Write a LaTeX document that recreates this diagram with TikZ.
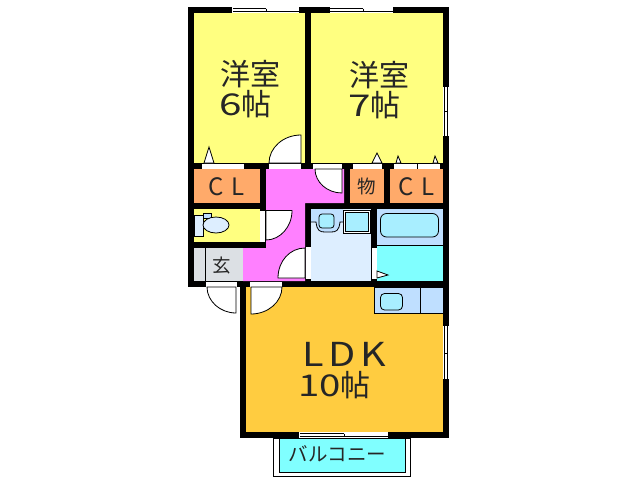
\documentclass[tikz,border=0pt]{standalone}
\usepackage{fontspec}
\setmainfont{Noto Sans CJK JP}
\newfontfamily\spacedbig[LetterSpace=12]{Noto Sans CJK JP}
\newfontfamily\spacedmid[LetterSpace=35]{Noto Sans CJK JP}
\definecolor{cyel}{HTML}{FFFF80}
\definecolor{cora}{HTML}{FFAA6A}
\definecolor{cpin}{HTML}{FF80FF}
\definecolor{cldk}{HTML}{FFCC40}
\definecolor{ccya}{HTML}{80FFFF}
\definecolor{cblu}{HTML}{BFDFFF}
\definecolor{cpal}{HTML}{DDEEFF}
\definecolor{cgry}{HTML}{DCE0E4}
\definecolor{csan}{HTML}{A8EEFF}
\tikzset{
 x=1pt,y=-1pt,
 wall/.style={fill=black,draw=none},
 fixt/.style={draw=black,line width=.8pt},
 opening/.style={fill=white,draw=none},
 door/.style={fill=white,draw=black,line width=.8pt},
 rail/.style={draw=black,line width=.6pt},
 big/.style={font=\fontsize{30}{30}\selectfont,inner sep=0pt,text=black!85},
 ldkfont/.style={font=\fontsize{33}{33}\selectfont,inner sep=0pt,text=black!85},
 mid/.style={font=\fontsize{24}{24}\selectfont,inner sep=0pt,text=black!85},
 small/.style={font=\fontsize{18.5}{18.5}\selectfont,inner sep=0pt,text=black!85},
}
\begin{document}
\begin{tikzpicture}
\useasboundingbox (0,0) rectangle (638,480);
\fill[white] (0,0) rectangle (638,480);
% outer walls as black masses
\fill[wall] (188,7) rectangle (449,287);
\fill[wall] (240,287) rectangle (449,438);
% rooms
\fill[cyel] (194,13) rectangle (305,163);
\fill[cyel] (311,13) rectangle (443,163);
\fill[cora] (194,169) rectangle (260,203);
\fill[cora] (350,169) rectangle (384,203);
\fill[cora] (390,169) rectangle (443,203);
\fill[cyel] (194,209) rectangle (260,242);
\fill[cgry] (194,248) rectangle (243,281);
\draw[black,line width=.4pt] (205,248) -- (205,281);
\fill[cpin] (266,169) -- (344,169) -- (344,203) -- (305,203) -- (305,281) -- (243,281) -- (243,248) -- (266,248) -- cycle;
\fill[cpal] (311,209) rectangle (371,281);
\fill[cblu] (311,209) rectangle (343,222);
\fill[cblu] (377,209) rectangle (443,245);
\fill[ccya] (377,245) rectangle (443,281);
\draw[black,line width=.8pt] (377,245) -- (443,245);
\fill[cldk] (246,287) rectangle (443,432);
% kitchen
\filldraw[fill=cblu,fixt] (374,287) rectangle (443,313);
\draw[fixt] (420,287) -- (420,313);
\filldraw[fill=csan,fixt,rounded corners=4pt] (380.5,293.5) rectangle (402.5,310);
% bathtub
\filldraw[fill=csan,fixt,rounded corners=6pt] (380.5,213.5) rectangle (438.5,237);
% wash basin
\filldraw[fill=cblu,fixt] (311,222) -- (316,222) .. controls (317,231) and (320,232) .. (325,232) -- (331,232) .. controls (336,232) and (339,231) .. (340,222) -- (343,222);
\filldraw[fill=csan,fixt,rounded corners=3pt] (319,214) rectangle (334,228);
% washer pan
\filldraw[fill=white,fixt] (343.5,210) rectangle (370.5,233);
\filldraw[fill=csan,fixt] (345.5,212) rectangle (368.5,231);
% toilet
\filldraw[fill=cpal,fixt] (194,215) rectangle (203,236);
\filldraw[fill=cblu,fixt] (203,213.5) rectangle (211,218);
\filldraw[fill=cpal,fixt] (216,225) ellipse (13 and 8);
% windows
\fill[opening] (232,7) rectangle (299,13);
\draw[rail] (233,8.5) -- (266,8.5) (233,11) -- (299,11) (266,8.5) -- (266,12);
\fill[opening] (330,7) rectangle (393,13);
\draw[rail] (330,8.5) -- (363,8.5) (330,11) -- (393,11) (363,8.5) -- (363,12);
\fill[opening] (299,432) rectangle (388,438);
\draw[rail] (300,433.5) -- (344,433.5) (300,436) -- (388,436) (344,433.5) -- (344,437);
\fill[opening] (443,87) rectangle (449,136);
\draw[rail] (444.5,87) -- (444.5,136) (447,87) -- (447,136) (444.5,111) -- (448,111);
\fill[opening] (443,326) rectangle (449,379);
\draw[rail] (444.5,326) -- (444.5,379) (447,326) -- (447,379) (444.5,353) -- (448,353);
% closet / door openings
\fill[opening] (202,164) rectangle (244,169);
\fill[opening] (269,164) rectangle (301,169);
\fill[opening] (313,164) rectangle (342,169);
\fill[opening] (353,164) rectangle (382,169);
\fill[opening] (394,164) rectangle (440,169);
\draw[rail] (417,164) -- (417,169);
\fill[opening] (260,211) rectangle (265,242);
\fill[opening] (306,247) rectangle (310.5,279);
\fill[opening] (372,248) rectangle (376.5,279);
\fill[opening] (206,281.5) rectangle (237,287);
\fill[opening] (250,281.5) rectangle (282,287);
% door leaves
\filldraw[door] (301,163) -- (301,135) .. controls (283,135) and (269,148) .. (269,163) -- cycle;
\filldraw[door] (342,169) -- (342,193) .. controls (327,193) and (315,182) .. (315,169) -- cycle;
\filldraw[door] (266,210.5) -- (292,210.5) .. controls (292,227) and (280,240) .. (266,240) -- cycle;
\filldraw[door] (305,278) -- (278,278) .. controls (278,261) and (290,248) .. (305,248) -- cycle;
\filldraw[door] (236,287) -- (236,313) .. controls (220,313) and (207,301) .. (207,287) -- cycle;
\filldraw[door] (251,287) -- (251,314) .. controls (268,314) and (282,302) .. (282,287) -- cycle;
% sliding-door marks
\filldraw[door] (204,163) -- (209,147) -- (214,163) -- cycle;
\filldraw[door] (372,163) -- (377,153) -- (382,163) -- cycle;
\filldraw[door] (396,163) -- (398,156) -- (401,163) -- cycle;
\filldraw[door] (433,163) -- (435,156) -- (438,163) -- cycle;
\filldraw[door] (377,271) -- (388,275) -- (377,278) -- cycle;
% balcony
\filldraw[fill=white,draw=black,line width=.8pt] (273.5,438) rectangle (410,476);
\filldraw[fill=ccya,draw=black,line width=.8pt] (279,438) rectangle (405,472);
% labels
\node[big] (y6a) at (250.5,74) {洋室};
\node[big] (y6b) at (245.5,104) {\scalebox{1.35}[1]{6}帖};
\node[big] (y7a) at (379,75) {洋室};
\node[big] (y7b) at (374.5,105) {\scalebox{1.35}[1]{7}帖};
\node[ldkfont] (ldk) at (344,354) {\scalebox{1.2}[1]{\spacedbig LDK}};
\node[big] (ldk2) at (334.5,385) {\scalebox{1.28}[1]{10}帖};
\node[mid] (cl1) at (226.5,187) {{\spacedmid CL}};
\node[mid] (cl2) at (416.5,187) {{\spacedmid CL}};
\node[small] (mono) at (367,186) {物};
\node[small] (gen) at (222,266) {玄};
\node[font=\fontsize{19.5}{19.5}\selectfont,inner sep=0pt,text=black!85] (bal) at (337.5,454) {バルコニー};
\end{tikzpicture}
\end{document}
